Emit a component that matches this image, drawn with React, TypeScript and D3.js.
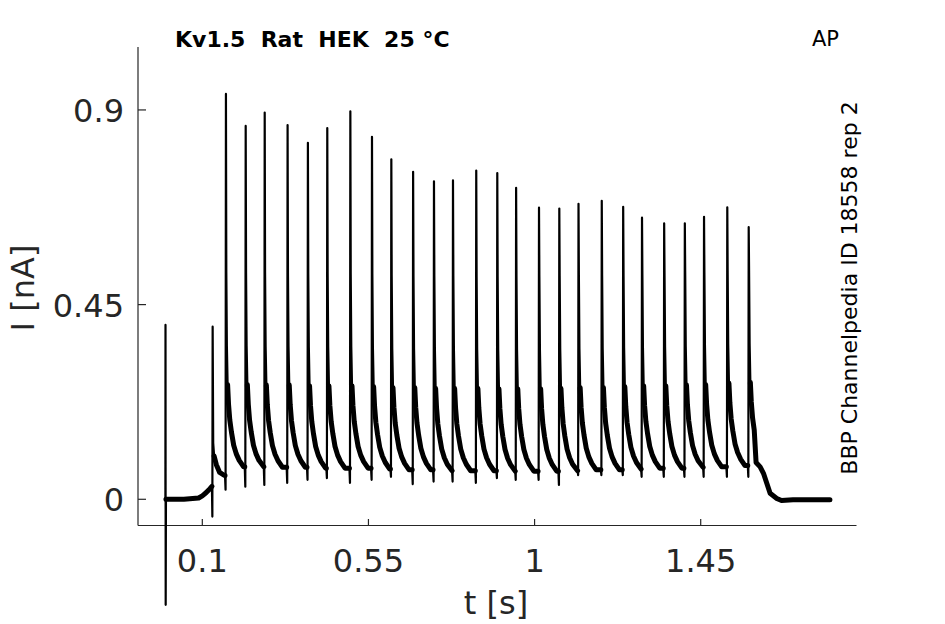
import React, { useMemo } from 'react';
import * as d3 from 'd3';

// axis ticks
const xTicks = [0.1, 0.55, 1, 1.45];
const xTickLabels = ['0.1', '0.55', '1', '1.45'];
const yTicks = [0, 0.45, 0.9];
const yTickLabels = ['0', '0.45', '0.9'];

// capacitive artifact at t = 0
const artifactPeak = 0.403;
const artifactTrough = -0.244;

// holding baseline before the first step (s, nA)
const baseTimes = [0.0015, 0.05, 0.09, 0.1, 0.11, 0.118, 0.126];
const baseValues = [0.0, 0.0, 0.003, 0.008, 0.015, 0.022, 0.03];

// first step into the AP train
const stepTime = 0.128;
const stepPeak = 0.399;
const stepTrough = -0.04;
const stepTailTimes = [0.1295, 0.132, 0.138, 0.147, 0.16];
const stepTailValues = [0.13, 0.1, 0.08, 0.062, 0.055];

// AP clamp responses: spike time, peak, dip, level reached afterwards
const apTimes = [0.164, 0.2175, 0.269, 0.331, 0.386, 0.4385, 0.501, 0.5596, 0.612, 0.671, 0.7275, 0.779, 0.842, 0.899, 0.95, 1.012, 1.067, 1.119, 1.182, 1.24, 1.291, 1.351, 1.407, 1.459, 1.522, 1.58];
const apPeaks = [0.937, 0.863, 0.894, 0.865, 0.824, 0.858, 0.897, 0.838, 0.786, 0.757, 0.735, 0.737, 0.76, 0.754, 0.72, 0.674, 0.672, 0.683, 0.69, 0.676, 0.651, 0.638, 0.638, 0.653, 0.675, 0.629];
const apTroughs = [0.022, 0.029, 0.033, 0.038, 0.045, 0.049, 0.038, 0.045, 0.052, 0.035, 0.041, 0.041, 0.038, 0.049, 0.045, 0.045, 0.033, 0.056, 0.056, 0.056, 0.052, 0.052, 0.052, 0.052, 0.052, 0.052];
const apPlateaus = [0.075, 0.075, 0.074, 0.074, 0.072, 0.072, 0.072, 0.07, 0.068, 0.068, 0.066, 0.066, 0.066, 0.065, 0.065, 0.065, 0.066, 0.068, 0.068, 0.07, 0.072, 0.072, 0.074, 0.075, 0.078, 0.08];

// tail after each spike (s after peak, nA above plateau)
const tailDt = [0.001, 0.0025, 0.0045, 0.007, 0.0105, 0.015, 0.021, 0.028, 0.036, 0.048];
const tailRise = [0.45, 0.28, 0.19, 0.145, 0.108, 0.08, 0.05, 0.03, 0.015, 0.0];

// relaxation back to holding after the train
const endTimes = [1.6, 1.611, 1.62, 1.629, 1.638, 1.656, 1.669, 1.7, 1.8];
const endValues = [0.085, 0.075, 0.06, 0.037, 0.014, 0.002, -0.003, -0.001, -0.001];

type Pt = { t: number; v: number; slow: boolean };

const W = 945;
const H = 624;
const left = 138;
const right = 856.5;
const top = 47;
const bottom = 525.5;
const axisColor = '#262626';
const font = 'DejaVu Sans, sans-serif';

export default function App() {
  const xScale = d3.scaleLinear().domain([-0.0742, 1.872]).range([left, right]);
  const yScale = d3.scaleLinear().domain([-0.0606, 1.0455]).range([bottom, top]);

  const points = useMemo(() => {
    const pts: Pt[] = [];
    pts.push({ t: 0, v: 0, slow: false });
    pts.push({ t: 0.0003, v: artifactPeak, slow: false });
    pts.push({ t: 0.0008, v: artifactTrough, slow: false });
    baseTimes.forEach((t, i) => pts.push({ t, v: baseValues[i], slow: true }));

    pts.push({ t: stepTime - 0.0008, v: stepTrough, slow: false });
    pts.push({ t: stepTime, v: stepPeak, slow: false });
    stepTailTimes.forEach((t, i) => pts.push({ t, v: stepTailValues[i], slow: i > 0 }));

    let prev = stepTailValues[stepTailValues.length - 1];
    apTimes.forEach((t, i) => {
      const last = i === apTimes.length - 1;
      const next = last ? endTimes[0] : apTimes[i + 1];
      pts.push({ t: t - 0.0025, v: prev, slow: true });
      pts.push({ t: t - 0.001, v: apTroughs[i], slow: false });
      pts.push({ t, v: apPeaks[i], slow: false });
      tailDt.forEach((dt, k) => {
        if (t + dt < next - 0.004) {
          pts.push({ t: t + dt, v: apPlateaus[i] + tailRise[k], slow: dt >= 0.0045 });
        }
      });
      prev = apPlateaus[i];
    });
    endTimes.forEach((t, i) => pts.push({ t, v: endValues[i], slow: true }));
    return pts;
  }, []);

  const thinPath = d3
    .line<Pt>()
    .x((d) => xScale(d.t))
    .y((d) => yScale(d.v))(points) || '';

  const bandPath = d3
    .line<Pt>()
    .defined((d) => d.slow)
    .x((d) => xScale(d.t))
    .y((d) => yScale(d.v))(points) || '';

  return (
    <div style={{ position: 'absolute', left: 0, top: 0 }}>
      <svg width={W} height={H} viewBox={`0 0 ${W} ${H}`} style={{ display: 'block', background: '#fff' }}>
        {/* axes */}
        <line x1={left} y1={top} x2={left} y2={bottom} stroke={axisColor} strokeWidth={1.2} />
        <line x1={left} y1={bottom} x2={right} y2={bottom} stroke={axisColor} strokeWidth={1.2} />

        {yTicks.map((v, i) => (
          <g key={`y${i}`}>
            <line x1={left} x2={left + 8} y1={yScale(v)} y2={yScale(v)} stroke={axisColor} strokeWidth={1.2} />
            <text x={left - 14} y={yScale(v) + 12} textAnchor="end" fontFamily={font} fontSize={32} fill={axisColor}>
              {yTickLabels[i]}
            </text>
          </g>
        ))}

        {xTicks.map((v, i) => (
          <g key={`x${i}`}>
            <line x1={xScale(v)} x2={xScale(v)} y1={bottom} y2={bottom - 6.5} stroke={axisColor} strokeWidth={1.2} />
            <text x={xScale(v)} y={572} textAnchor="middle" fontFamily={font} fontSize={32} fill={axisColor}>
              {xTickLabels[i]}
            </text>
          </g>
        ))}

        <text x={496} y={614} textAnchor="middle" fontFamily={font} fontSize={32} fill={axisColor}>
          t [s]
        </text>
        <text
          transform={`translate(33.5, 288) rotate(-90)`}
          textAnchor="middle"
          fontFamily={font}
          fontSize={32}
          fill={axisColor}
        >
          I [nA]
        </text>

        {/* recording */}
        <path d={bandPath} fill="none" stroke="#000" strokeWidth={5} strokeLinejoin="round" strokeLinecap="round" />
        <path d={thinPath} fill="none" stroke="#000" strokeWidth={2.2} strokeLinejoin="round" />

        {/* annotations */}
        <text x={175} y={46.5} fontFamily={font} fontWeight="bold" fontSize={22} fill="#000" style={{ whiteSpace: 'pre' }}>
          {'Kv1.5  Rat  HEK  25 °C'}
        </text>
        <text x={839} y={46} textAnchor="end" fontFamily={font} fontSize={21} fill="#000">
          AP
        </text>
        <text
          transform={`translate(857, 288) rotate(-90)`}
          textAnchor="middle"
          fontFamily={font}
          fontSize={22}
          fill="#000"
        >
          BBP Channelpedia ID 18558 rep 2
        </text>
      </svg>
    </div>
  );
}
